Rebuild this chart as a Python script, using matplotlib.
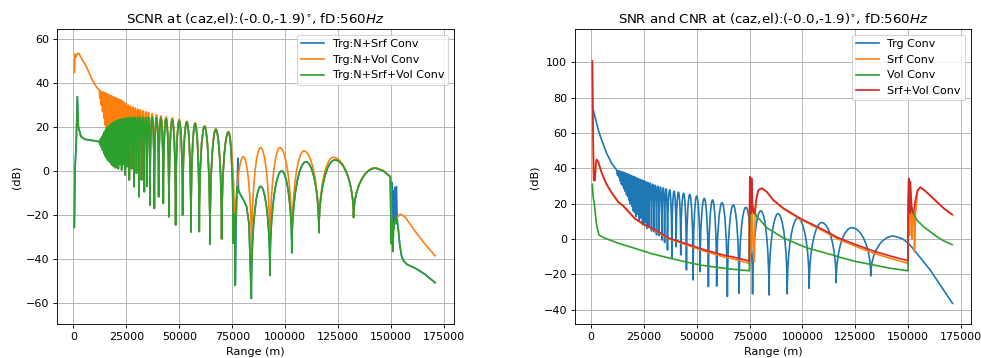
import numpy as np
import matplotlib.pyplot as plt
from matplotlib.path import Path
from matplotlib.patches import PathPatch
from matplotlib.lines import Line2D

# ranges of the multipath nulls (shared by every lobed curve) and the lobe peak that follows each null
null_x = [12600, 13200, 13800, 14400, 15000, 15600, 16200, 16800, 17400, 18000, 18600, 19300, 20000,
          20600, 21230, 22000, 22830, 23600, 24390, 25400, 26420, 27500, 28630, 29800, 30990, 32200,
          33490, 34800, 36180, 38220, 40280, 42450, 45140, 48300, 51600, 55520, 59430, 64480, 70000]
peak_x = [12900, 13500, 14100, 14700, 15300, 15900, 16500, 17100, 17700, 18300, 18950, 19650, 20300,
          20900, 21600, 22400, 23200, 24000, 24900, 25900, 26950, 28050, 29200, 30400, 31600, 32850,
          34150, 35500, 37200, 39250, 41350, 43800, 46700, 49950, 53560, 57480, 61950, 67240, 73200]

# ---- left: SCNR ----
# Trg:N+Srf+Vol
all_head_x = [470, 800, 1420, 1890, 2360, 3630, 5520, 9430, 11800, 12300]
all_head_y = [-26, 0.5, 14.1, 33.8, 20.1, 15.6, 14.4, 13.8, 13.4, 13.2]
all_nulls = [12.0, 11.0, 9.5, 8.0, 7.0, 6.0, 5.0, 4.5, 4.0, 3.0, 2.5, 2.0, 1.5,
             2.0, 1.0, 3.0, 0.5, 3.0, -1.8, 2.0, -4.1, 1.0, -7.1, -1.0, -11.7, -4.0,
             -9.4, -7.0, -15.5, -17.0, -11.7, -14.7, -20.8, -24.5, -20.0, -27.7, -27.5, -33.3, -30.9]
all_peaks = [14.5, 15.5, 16.5, 17.8, 18.8, 19.6, 20.2, 20.8, 21.3, 21.7, 22.1, 22.5, 22.8,
             23.0, 23.3, 23.5, 23.7, 23.9, 24.0, 24.2, 24.3, 24.4, 24.4, 24.4, 24.4, 24.4,
             24.4, 24.4, 24.4, 24.3, 24.1, 23.8, 23.3, 22.8, 22.2, 21.5, 20.2, 18.8, 17.6]
all_tail_x = [75470, 75900, 76420, 77360, 78960, 80500, 81790, 82900, 84000, 88390, 92780, 98300,
              103100, 109770, 115900, 123440, 132260, 142650, 146200, 149600, 150000, 150300,
              150700, 151270, 152300, 153300, 154100, 155000, 156000, 157500, 162000, 166000, 171000]
all_tail_y = [-32.9, -19.5, -52, -7.1, -10.9, -13.5, -16.2, -24, -57.9, -7.0, -47.5, 0.0,
              -37.2, 4.2, -28.0, 5.0, -21.1, 1.3, 0.1, -2.6, -33, -22.3,
              -36.7, -25.3, -20.8, -26, -34, -39, -41, -42.5, -44.5, -47, -51]

# Trg:N+Vol
vol_head_x = [470, 800, 1400, 2600, 4000, 6000, 9000, 11000, 12300]
vol_head_y = [44.4, 53.2, 51.8, 53.5, 51.0, 47.8, 41.3, 38.0, 36.8]
vol_nulls = [33.0, 30.0, 27.0, 24.0, 21.0, 18.0, 15.0, 12.0, 10.0, 3.0, 2.5, 2.0, 1.5,
             2.0, 1.0, 3.0, 0.5, 3.0, -1.8, 2.0, -4.1, 1.0, -7.1, -1.0, -11.7, -4.0,
             -9.4, -7.0, -15.5, -17.0, -11.7, -14.7, -20.8, -24.5, -20.0, -27.7, -27.5, -33.3, -30.9]
vol_peaks = [36.3, 36.0, 35.8, 35.6, 35.4, 35.1, 34.8, 34.5, 34.2, 34.0, 33.7, 33.4, 33.1,
             32.9, 32.6, 32.3, 31.8, 31.2, 30.6, 30.0, 29.5, 29.0, 28.6, 28.2, 27.8, 27.4,
             27.0, 26.6, 26.1, 25.6, 25.1, 24.6, 24.1, 23.5, 22.6, 21.9, 20.6, 19.2, 17.9]
vol_tail_x = [76200, 80190, 84100, 88390, 92780, 97500, 103160, 108820, 115900, 122650, 132260,
              142650, 146200, 149600, 150300, 151000, 152000, 153000, 154300, 156460, 161970,
              166000, 171000]
vol_tail_y = [-40, 6.5, -40, 10.6, -38, 10.6, -34, 9.1, -28, 6.2, -21.1,
              1.5, 0.3, -2.5, -28, -25, -23, -21, -19.6, -20.8, -28.3,
              -33.3, -38.8]

# Trg:N+Srf differs from N+Srf+Vol only at the two range folds
srf_fold1_x = [75470, 75900, 76420, 76900, 77300, 77650, 78000]
srf_fold1_y = [-32.9, -19.2, -52, -22, -8, 5.8, -9.5]
srf_fold2_x = [150000, 150300, 150600, 150900, 151300, 151700, 152100, 152500, 152800]
srf_fold2_y = [-33, -5, -30, -9, -26, -7.5, -24, -7, -21]

# ---- right: SNR and CNR ----
trg_head_x = [620, 1890, 3470, 5060, 7420, 9790, 12160]
trg_head_y = [75.5, 69.2, 61.7, 56.0, 48.5, 42.8, 39.0]
trg_nulls = [36, 35, 33, 31, 30, 28.5, 27, 25, 24, 22, 20, 18.5, 16,
             15, 12.6, 14, 10, 12, 8, 9, 6, 7, 4.5, 4, 2.3, 2,
             -0.6, -2, -6.2, -10.9, -4.4, -9, -17.5, -23.2, -18.5, -27, -26.6, -32.6, -30.7]
trg_peaks = [38.6, 38.4, 38.2, 38.0, 37.8, 37.5, 37.2, 36.9, 36.6, 36.3, 36.0, 35.6, 35.3,
             35.0, 34.6, 34.2, 33.8, 33.4, 33.0, 32.5, 32.0, 31.6, 31.0, 30.4, 29.9, 29.4,
             28.9, 28.4, 27.8, 27.1, 26.5, 25.9, 25.2, 24.3, 23.0, 22.1, 20.5, 19.2, 17.9]
trg_tail_x = [76400, 80270, 84150, 88450, 92780, 97800, 103160, 109100, 115900, 123300, 132260,
              143000, 147000, 150100, 152450, 160350, 171100]
trg_tail_y = [-31.1, 16.0, -31.7, 14.3, -31.1, 11.8, -27.9, 9.3, -24.7, 6.4, -20.8,
              1.7, 0.3, -2.4, -5.8, -17.5, -36.8]

srf_x = [650, 1000, 1300, 1900, 2300, 2680, 3500, 5060, 7000, 9000, 12900, 15300, 20800, 25000,
         31100, 36600, 46800, 52400, 62600, 67300, 74880, 75200, 75600, 76100, 76600, 77240, 77600,
         78370, 79150, 80740, 83100, 86230, 91000, 98900, 106800, 110000, 117000, 125700, 133500,
         141400, 149900, 150200, 150600, 151100, 151700, 152300, 152920, 153400, 154400, 155600,
         158000, 163500, 167000, 171100]
srf_y = [100, 58, 33, 33, 42.8, 44.8, 43.3, 37.3, 31.8, 27.5, 20.6, 18.5, 11.3, 8.0,
         4.4, 0.2, -4.0, -6.4, -10.1, -11.3, -13.8, 22, -8, 18, -2, -12.8, 14,
         23.8, 27.5, 28.6, 26.6, 21.8, 17.0, 11.2, 6.4, 4.4, -0.2, -4.4, -8.0,
         -10.9, -13.8, 28, 2, 22, 0, 16, -7.2, 14, 27.3, 29.1,
         27.1, 20.9, 17.0, 13.4]

volc_x = [620, 1000, 1580, 2200, 2680, 3780, 5840, 12910, 20000, 28700, 36000, 44460, 52000, 58650,
          66000, 74880, 75200, 76480, 78370, 79940, 83100, 86230, 90960, 98860, 102000, 114600,
          117780, 125000, 133530, 141000, 149900, 150200, 151500, 152450, 154000, 157180, 163500,
          167000, 171100]
volc_y = [31.5, 24, 20.2, 13, 8, 2.3, 0.8, -2.4, -5, -8.3, -10.5, -12.9, -14.8, -15.9,
          -17, -18, 22.1, 18.3, 12.6, 10.8, 6.3, 4.1, 0.6, -3.4, -5.0, -9.2,
          -10.4, -12.7, -14.7, -16.5, -18, 24, 18, 14.5, 10.8, 7.0, 1.3,
          -1.2, -3.4]

both_x = [650, 1000, 1300, 1900, 2300, 2680, 3500, 5060, 7000, 9000, 12900, 15300, 20800, 25000,
          31100, 36600, 46800, 52400, 62600, 67300, 74880, 75200, 75680, 76000, 76480, 77200, 78370,
          79150, 80740, 83100, 86230, 91000, 98900, 106800, 110000, 117000, 125700, 133500, 141400,
          149900, 150200, 150700, 151000, 151700, 152450, 153500, 154400, 155600, 158000, 163500,
          167000, 171100]
both_y = [101.3, 60, 33.4, 33.4, 43, 45, 43.5, 37.5, 32, 27.7, 21, 18.8, 11.6, 8.3,
          4.7, 0.6, -3.4, -5.7, -9.1, -10.2, -12.5, 35.3, 14.5, 34.3, 16.4, 14.2, 24,
          27.7, 28.8, 26.8, 22.1, 17.4, 11.7, 7.0, 5.1, 0.6, -3.4, -6.8, -9.6,
          -12.3, 34.3, 14.5, 32.5, 16.4, 14.5, 23, 27.5, 29.3, 27.3, 21.1,
          17.2, 13.6]


def lobed(head_x, head_y, nulls, peaks, tail_x, tail_y):
    xs, ys = list(head_x), list(head_y)
    for nx, ny, px, py in zip(null_x, nulls, peak_x, peaks):
        xs += [nx, px]
        ys += [ny, py]
    return np.array(xs + list(tail_x), float), np.array(ys + list(tail_y), float)


def draw(ax, x, y, color):
    # lobes drawn as rounded arches between a null and the next peak
    n = len(x)

    def kind(i):
        if i == 0 or i == n - 1:
            return 0
        if y[i] < y[i - 1] and y[i] < y[i + 1]:
            return -1
        if y[i] > y[i - 1] and y[i] > y[i + 1]:
            return 1
        return 0

    verts = [(x[0], y[0])]
    codes = [Path.MOVETO]
    for i in range(n - 1):
        k0, k1 = kind(i), kind(i + 1)
        x0, y0, x1, y1 = x[i], y[i], x[i + 1], y[i + 1]
        if k0 == -1 and k1 == 1:
            verts += [(x0, y0 + 0.6 * (y1 - y0)), (x0 + 0.5 * (x1 - x0), y1), (x1, y1)]
            codes += [Path.CURVE4] * 3
        elif k0 == 1 and k1 == -1:
            verts += [(x0 + 0.5 * (x1 - x0), y0), (x1, y1 + 0.6 * (y0 - y1)), (x1, y1)]
            codes += [Path.CURVE4] * 3
        else:
            verts.append((x1, y1))
            codes.append(Path.LINETO)
    ax.add_patch(PathPatch(Path(verts, codes), fill=False, edgecolor=color, lw=1.5,
                           joinstyle='round', capstyle='butt', zorder=2))


all_x, all_y = lobed(all_head_x, all_head_y, all_nulls, all_peaks, all_tail_x, all_tail_y)
vol_x, vol_y = lobed(vol_head_x, vol_head_y, vol_nulls, vol_peaks, vol_tail_x, vol_tail_y)
keep = ~(((all_x >= 75400) & (all_x <= 78100)) | ((all_x >= 149900) & (all_x <= 152900)))
s_x = np.concatenate([all_x[keep], srf_fold1_x, srf_fold2_x])
s_y = np.concatenate([all_y[keep], srf_fold1_y, srf_fold2_y])
order = np.argsort(s_x, kind='stable')
s_x, s_y = s_x[order], s_y[order]
trg_x, trg_y = lobed(trg_head_x, trg_head_y, trg_nulls, trg_peaks, trg_tail_x, trg_tail_y)

fig = plt.figure(figsize=(12.2625, 4.475), dpi=80)
ax1 = fig.add_axes([0.0584, 0.0941, 0.4044, 0.824])
ax2 = fig.add_axes([0.5861, 0.0941, 0.4037, 0.824])

title_tail = ' at (caz,el):(-0.0,-1.9)$^{\\circ}$, fD:560$Hz$'

draw(ax1, s_x, s_y, 'C0')
draw(ax1, vol_x, vol_y, 'C1')
draw(ax1, all_x, all_y, 'C2')
ax1.set_ylim(-69.7, 64.4)
ax1.set_yticks(range(-60, 61, 20))
ax1.set_title('SCNR' + title_tail)
ax1.legend(handles=[Line2D([], [], color='C0', label='Trg:N+Srf Conv'),
                    Line2D([], [], color='C1', label='Trg:N+Vol Conv'),
                    Line2D([], [], color='C2', label='Trg:N+Srf+Vol Conv')],
           loc='upper right')

draw(ax2, trg_x, trg_y, 'C0')
draw(ax2, np.array(srf_x, float), np.array(srf_y, float), 'C1')
draw(ax2, np.array(volc_x, float), np.array(volc_y, float), 'C2')
draw(ax2, np.array(both_x, float), np.array(both_y, float), 'C3')
ax2.set_ylim(-48.3, 118.7)
ax2.set_yticks(range(-40, 101, 20))
ax2.set_title('SNR and CNR' + title_tail)
ax2.legend(handles=[Line2D([], [], color='C0', label='Trg Conv'),
                    Line2D([], [], color='C1', label='Srf Conv'),
                    Line2D([], [], color='C2', label='Vol Conv'),
                    Line2D([], [], color='C3', label='Srf+Vol Conv')],
           loc='upper right')

for ax in (ax1, ax2):
    ax.set_xlim(-7560, 179650)
    ax.set_xticks(range(0, 175001, 25000))
    ax.set_xlabel('Range (m)')
    ax.set_ylabel('(dB)')
    ax.grid(True)

fig.savefig('out.png', dpi=80)
